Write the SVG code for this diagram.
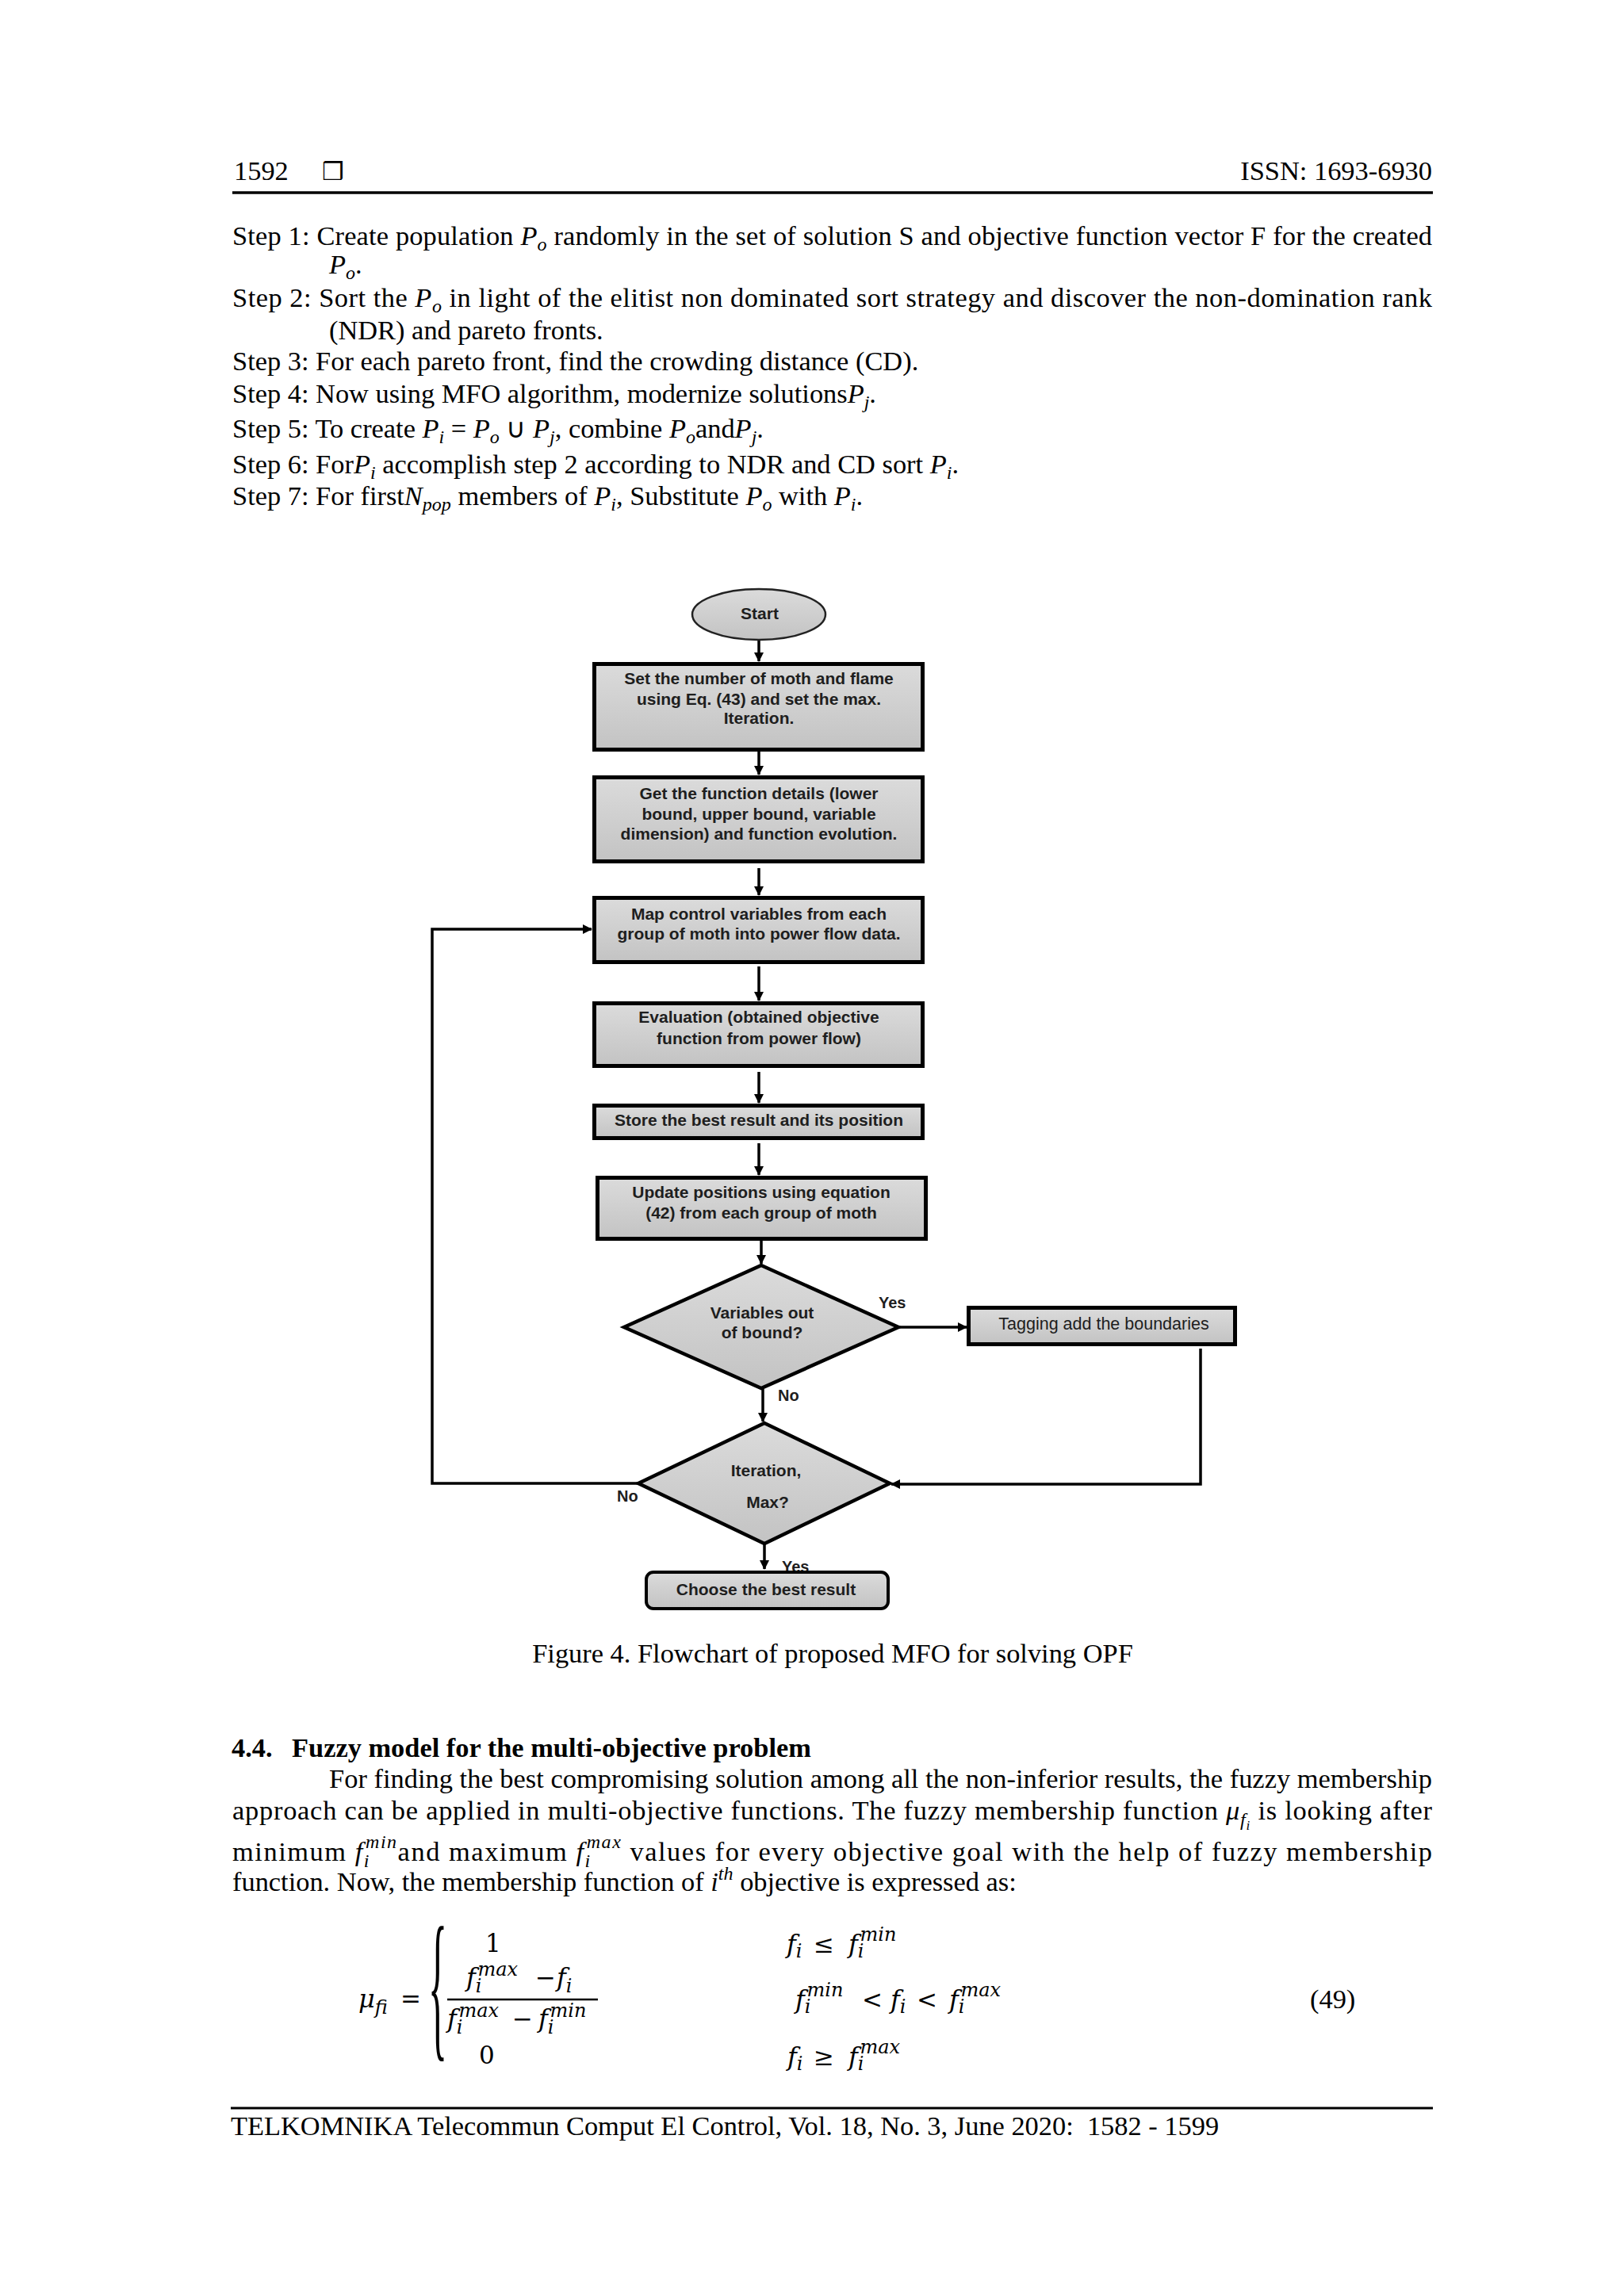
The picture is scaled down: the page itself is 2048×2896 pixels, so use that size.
<svg xmlns="http://www.w3.org/2000/svg" width="2048" height="2896" viewBox="0 0 2048 2896">
<style>
.t{font-family:"Liberation Serif","Times New Roman",serif;font-size:34.4px;fill:#000}
.i{font-style:italic}
.sb{font-style:italic;font-size:24px}
.hd{font-weight:bold}
.fc{font-family:"Liberation Sans",Arial,sans-serif;font-weight:bold;font-size:21px;fill:#1e1e1e;text-anchor:middle}
.fr{font-family:"Liberation Sans",Arial,sans-serif;font-size:21.5px;fill:#1e1e1e;text-anchor:middle}
.lb{font-family:"Liberation Sans",Arial,sans-serif;font-weight:bold;font-size:20px;fill:#1e1e1e}
.box{fill:url(#g);stroke:#000;stroke-width:5}
.dia{fill:url(#g);stroke:#000;stroke-width:4.5}
.conn{fill:none;stroke:#000;stroke-width:3.5}
.arr{marker-end:url(#ah)}
.mi{font-family:"DejaVu Serif",serif;font-style:italic;font-size:32px}
.ms{font-family:"DejaVu Serif",serif;font-style:italic;font-size:24px}
.mn{font-family:"DejaVu Serif",serif;font-size:31px}
</style>
<defs>
<linearGradient id="g" x1="0" y1="0" x2="0" y2="1">
<stop offset="0" stop-color="#dbdbdb"/>
<stop offset="1" stop-color="#c3c3c3"/>
</linearGradient>
<marker id="ah" viewBox="0 0 12 12" refX="11" refY="6" markerWidth="12" markerHeight="12" markerUnits="userSpaceOnUse" orient="auto">
<path d="M0,0 L12,6 L0,12 z" fill="#000"/>
</marker>
</defs>
<rect x="0" y="0" width="2048" height="2896" fill="#fff"/>

<g id="header" class="t">
<text x="295" y="227">1592</text>
<text x="406" y="227" style="font-family:'DejaVu Sans',sans-serif;font-size:31px">❒</text>
<text x="1806" y="227" text-anchor="end">ISSN: 1693-6930</text>
<line x1="293" y1="243" x2="1807" y2="243" stroke="#000" stroke-width="3.5"/>
</g>

<g id="steps" class="t">
<text x="293" y="309" textLength="1513" lengthAdjust="spacing">Step 1: Create population <tspan class="i">P</tspan><tspan class="sb" dy="7">o</tspan><tspan dy="-7"> randomly in the set of solution S and objective function vector F for the created</tspan></text>
<text x="415" y="345"><tspan class="i">P</tspan><tspan class="sb" dy="7">o</tspan><tspan dy="-7">.</tspan></text>
<text x="293" y="387" textLength="1513" lengthAdjust="spacing">Step 2: Sort the <tspan class="i">P</tspan><tspan class="sb" dy="7">o</tspan><tspan dy="-7"> in light of the elitist non dominated sort strategy and discover the non-domination rank</tspan></text>
<text x="415" y="428">(NDR) and pareto fronts.</text>
<text x="293" y="467">Step 3: For each pareto front, find the crowding distance (CD).</text>
<text x="293" y="508">Step 4: Now using MFO algorithm, modernize solutions<tspan class="i">P</tspan><tspan class="sb" dy="7">j</tspan><tspan dy="-7">.</tspan></text>
<text x="293" y="552">Step 5: To create <tspan class="i">P</tspan><tspan class="sb" dy="7">i</tspan><tspan dy="-7"> = </tspan><tspan class="i">P</tspan><tspan class="sb" dy="7">o</tspan><tspan dy="-7"> ∪ </tspan><tspan class="i">P</tspan><tspan class="sb" dy="7">j</tspan><tspan dy="-7">, combine </tspan><tspan class="i">P</tspan><tspan class="sb" dy="7">o</tspan><tspan dy="-7">and</tspan><tspan class="i">P</tspan><tspan class="sb" dy="7">j</tspan><tspan dy="-7">.</tspan></text>
<text x="293" y="597">Step 6: For<tspan class="i">P</tspan><tspan class="sb" dy="7">i</tspan><tspan dy="-7"> accomplish step 2 according to NDR and CD sort </tspan><tspan class="i">P</tspan><tspan class="sb" dy="7">i</tspan><tspan dy="-7">.</tspan></text>
<text x="293" y="637">Step 7: For first<tspan class="i">N</tspan><tspan class="sb" dy="7">pop</tspan><tspan dy="-7"> members of </tspan><tspan class="i">P</tspan><tspan class="sb" dy="7">i</tspan><tspan dy="-7">, Substitute </tspan><tspan class="i">P</tspan><tspan class="sb" dy="7">o</tspan><tspan dy="-7"> with </tspan><tspan class="i">P</tspan><tspan class="sb" dy="7">i</tspan><tspan dy="-7">.</tspan></text>
</g>

<g id="connectors">
<line class="conn arr" x1="957" y1="808" x2="957" y2="834"/>
<line class="conn arr" x1="957" y1="948" x2="957" y2="977"/>
<line class="conn arr" x1="957" y1="1095" x2="957" y2="1129"/>
<line class="conn arr" x1="957" y1="1219" x2="957" y2="1262"/>
<line class="conn arr" x1="957" y1="1352" x2="957" y2="1391"/>
<line class="conn arr" x1="957" y1="1442" x2="957" y2="1482"/>
<line class="conn arr" x1="960" y1="1565" x2="960" y2="1594"/>
<line class="conn arr" x1="1134" y1="1674" x2="1219" y2="1674"/>
<line class="conn arr" x1="962" y1="1752" x2="962" y2="1793"/>
<polyline class="conn arr" points="1514,1701 1514,1872 1124,1872"/>
<polyline class="conn arr" points="804,1871 545,1871 545,1172 746,1172"/>
<line class="conn arr" x1="964" y1="1948" x2="964" y2="1979"/>
<text class="lb" x="1108" y="1650">Yes</text>
<text class="lb" x="981" y="1767">No</text>
<text class="lb" x="778" y="1894">No</text>
<text class="lb" x="986" y="1983">Yes</text>
</g>

<g id="n-start">
<ellipse cx="957" cy="775" rx="84" ry="32" fill="url(#g)" stroke="#222" stroke-width="2.5"/>
<text class="fc" x="958" y="781">Start</text>
</g>
<g id="n-set">
<rect class="box" x="749.5" y="837.5" width="414" height="108"/>
<text class="fc" x="957" y="863">Set the number of moth and flame</text>
<text class="fc" x="957" y="889">using Eq. (43) and set the max.</text>
<text class="fc" x="957" y="913">Iteration.</text>
</g>
<g id="n-get">
<rect class="box" x="749.5" y="980.5" width="414" height="106"/>
<text class="fc" x="957" y="1008">Get the function details (lower</text>
<text class="fc" x="957" y="1034">bound, upper bound, variable</text>
<text class="fc" x="957" y="1059">dimension) and function evolution.</text>
</g>
<g id="n-map">
<rect class="box" x="749.5" y="1132.5" width="414" height="81"/>
<text class="fc" x="957" y="1160">Map control variables from each</text>
<text class="fc" x="957" y="1185">group of moth into power flow data.</text>
</g>
<g id="n-eval">
<rect class="box" x="749.5" y="1265.5" width="414" height="79"/>
<text class="fc" x="957" y="1290">Evaluation (obtained objective</text>
<text class="fc" x="957" y="1317">function from power flow)</text>
</g>
<g id="n-store">
<rect class="box" x="749.5" y="1394.5" width="414" height="41"/>
<text class="fc" x="957" y="1420">Store the best result and its position</text>
</g>
<g id="n-update">
<rect class="box" x="753.5" y="1485.5" width="414" height="77"/>
<text class="fc" x="960" y="1511">Update positions using equation</text>
<text class="fc" x="960" y="1537">(42) from each group of moth</text>
</g>
<g id="n-bound">
<polygon class="dia" points="960,1596 1133,1674 960,1751 787,1674"/>
<text class="fc" x="961" y="1663">Variables out</text>
<text class="fc" x="961" y="1688">of bound?</text>
</g>
<g id="n-tag">
<rect class="box" x="1221.5" y="1649.5" width="336" height="46"/>
<text class="fr" x="1392" y="1677">Tagging add the boundaries</text>
</g>
<g id="n-iter">
<polygon class="dia" points="964,1795 1122,1871 964,1947 805,1871"/>
<text class="fc" x="966" y="1862">Iteration,</text>
<text class="fc" x="968" y="1902">Max?</text>
</g>
<g id="n-choose">
<rect x="815" y="1983" width="305" height="46" rx="9" fill="url(#g)" stroke="#000" stroke-width="4"/>
<text class="fc" x="966" y="2012">Choose the best result</text>
</g>

<g id="caption" class="t">
<text x="1050" y="2097" text-anchor="middle">Figure 4. Flowchart of proposed MFO for solving OPF</text>
</g>

<g id="section" class="t">
<text class="hd" y="2216"><tspan x="292">4.4.</tspan><tspan x="368">Fuzzy model for the multi-objective problem</tspan></text>
<text x="415" y="2255" textLength="1391" lengthAdjust="spacing">For finding the best compromising solution among all the non-inferior results, the fuzzy membership</text>
<text x="293" y="2295" textLength="1513" lengthAdjust="spacing">approach can be applied in multi-objective functions. The fuzzy membership function <tspan class="i">μ</tspan><tspan class="sb" dy="8">f</tspan><tspan class="sb" style="font-size:17px" dy="5">i</tspan><tspan dy="-13"> is looking after</tspan></text>
<text x="293" y="2347" textLength="1513" lengthAdjust="spacing">minimum <tspan class="i">f</tspan><tspan class="sb" dy="8">i</tspan><tspan class="sb" dx="-6" dy="-24">min</tspan><tspan dy="16">and maximum </tspan><tspan class="i">f</tspan><tspan class="sb" dy="8">i</tspan><tspan class="sb" dx="-6" dy="-24">max</tspan><tspan dy="16"> values for every objective goal with the help of fuzzy membership</tspan></text>
<text x="293" y="2385">function. Now, the membership function of <tspan class="i">i</tspan><tspan class="sb" dy="-14">th</tspan><tspan dy="14"> objective is expressed as:</tspan></text>
</g>

<g id="equation">
<text class="mi" x="452" y="2532">μ<tspan class="ms" dy="8">f</tspan><tspan class="ms" dx="3">i</tspan></text>
<text class="mn" x="505" y="2532">=</text>
<text x="0" y="0" transform="translate(540,2572) scale(1,4.1)" style="font-family:'Liberation Serif',serif;font-size:50px">{</text>
<text class="mn" x="612" y="2462">1</text>
<text y="2505"><tspan class="mi" x="588">f</tspan><tspan class="ms" dy="8">i</tspan><tspan class="ms" dx="-5" dy="-21">max</tspan><tspan class="mn" x="675" dy="13">−</tspan><tspan class="mi" x="702">f</tspan><tspan class="ms" dy="8">i</tspan></text>
<line x1="564" y1="2522" x2="754" y2="2522" stroke="#000" stroke-width="2.5"/>
<text y="2557"><tspan class="mi" x="564">f</tspan><tspan class="ms" dy="8">i</tspan><tspan class="ms" dx="-5" dy="-21">max</tspan><tspan class="mn" x="646" dy="13">−</tspan><tspan class="mi" x="679">f</tspan><tspan class="ms" dy="8">i</tspan><tspan class="ms" dx="-5" dy="-21">min</tspan></text>
<text class="mn" x="604" y="2603">0</text>
<text y="2463"><tspan class="mi" x="992">f</tspan><tspan class="ms" dy="6">i</tspan><tspan class="mn" x="1026" dy="-6">≤</tspan><tspan class="mi" x="1070">f</tspan><tspan class="ms" dy="6">i</tspan><tspan class="ms" dx="-5" dy="-21">min</tspan></text>
<text y="2533"><tspan class="mi" x="1003">f</tspan><tspan class="ms" dy="6">i</tspan><tspan class="ms" dx="-5" dy="-21">min</tspan><tspan class="mn" x="1087" dy="15">&lt;</tspan><tspan class="mi" x="1123">f</tspan><tspan class="ms" dy="6">i</tspan><tspan class="mn" x="1156" dy="-6">&lt;</tspan><tspan class="mi" x="1197">f</tspan><tspan class="ms" dy="6">i</tspan><tspan class="ms" dx="-5" dy="-21">max</tspan></text>
<text y="2605"><tspan class="mi" x="993">f</tspan><tspan class="ms" dy="6">i</tspan><tspan class="mn" x="1026" dy="-6">≥</tspan><tspan class="mi" x="1070">f</tspan><tspan class="ms" dy="6">i</tspan><tspan class="ms" dx="-5" dy="-21">max</tspan></text>
<text class="t" x="1652" y="2533">(49)</text>
</g>

<g id="footer" class="t">
<line x1="291" y1="2659" x2="1807" y2="2659" stroke="#000" stroke-width="3"/>
<text x="291" y="2693" xml:space="preserve">TELKOMNIKA Telecommun Comput El Control, Vol. 18, No. 3, June 2020:  1582 - 1599</text>
</g>
</svg>
